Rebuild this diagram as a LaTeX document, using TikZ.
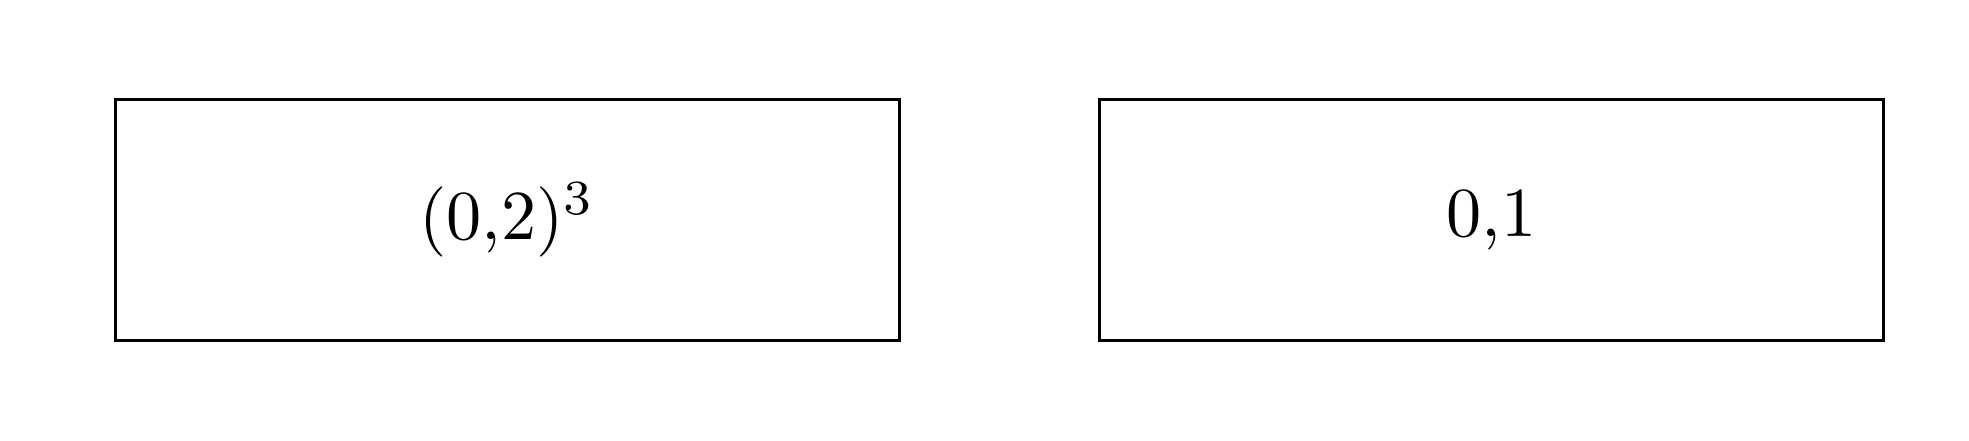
\documentclass[tikz,border=0pt]{standalone}
\begin{document}
\begin{tikzpicture}[x=0.005cm,y=-0.005cm,
  cell/.style={draw,line width=0.42pt,minimum width=3.92cm,minimum height=1.205cm,inner sep=0pt}]
\useasboundingbox (0,0) rectangle (1969,441);
\node[cell] (a) at (507.5,220) {(0,2)$^3$};
\node[cell] (b) at (1491.6,220) {0,1};
\end{tikzpicture}
\end{document}
